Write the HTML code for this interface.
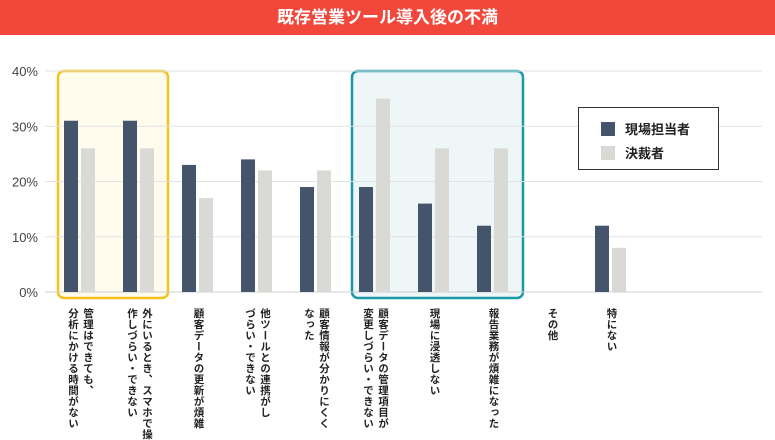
<!DOCTYPE html>
<html><head><meta charset="utf-8"><style>
body{margin:0;width:775px;height:440px;background:#fff;font-family:"Liberation Sans","Noto Sans CJK JP",sans-serif;overflow:hidden;position:relative}
.title{position:absolute;left:0;top:0;width:775px;height:35px;background:#f2473b;color:#fff;font-weight:bold;font-size:17px;text-align:center;line-height:35px}
.lab{position:absolute;top:308px;writing-mode:vertical-rl;font-size:10.5px;font-weight:bold;color:#222;line-height:15px;letter-spacing:0.5px}
</style></head><body>
<div class="title">既存営業ツール導入後の不満</div>
<svg id="c" width="775" height="440" style="position:absolute;left:0;top:0"></svg>
<div id="labs"></div>
<script>
const categories=["管理はできても、<br>分析にかける時間がない","外にいるとき、スマホで操<br>作しづらい・できない","顧客データの更新が煩雑","他ツールとの連携がし<br>づらい・できない","顧客情報が分かりにくく<br>なった","顧客データの管理項目が<br>変更しづらい・できない","現場に浸透しない","報告業務が煩雑になった","その他","特にない"];
const fieldValues=[31,31,23,24,19,19,16,12,0,12];
const managerValues=[26,26,17,22,22,35,26,26,0,8];
const yTicks=[0,10,20,30,40];
const NS="http://www.w3.org/2000/svg";
const svg=document.getElementById('c');
const y=v=>292-v*5.525;
const x=i=>50+i*59;
function mk(t,a){const e=document.createElementNS(NS,t);for(const k in a)e.setAttribute(k,a[k]);svg.appendChild(e);return e;}
let hb=mk('rect',{x:58,y:71,width:110,height:227,rx:6,fill:'#fffcee',stroke:'#f5c21b','stroke-width':2.5});


let hb2=mk('rect',{x:352,y:71,width:171,height:227,rx:6,fill:'#eef6f8',stroke:'#1a9aa8','stroke-width':2.5});


yTicks.forEach(t=>{
 const g=mk('line',{x1:45,x2:762,y1:y(t),y2:y(t),stroke:t?'#e2e2e2':'#cfcfcf','stroke-width':1});
 
 
 const tx=mk('text',{x:38,y:y(t)+5,'text-anchor':'end','font-size':13,fill:'#444'});
 tx.textContent=t+'%';
 
 
});
const labs=document.getElementById('labs');
categories.forEach((c,i)=>{
 const b1=mk('rect',{x:x(i)+14,y:y(fieldValues[i]),width:14,height:292-y(fieldValues[i]),fill:'#44546a'});
 
 
 const b2=mk('rect',{x:x(i)+31,y:y(managerValues[i]),width:14,height:292-y(managerValues[i]),fill:'#d9d9d6'});
 
 
 const d=document.createElement('div');
 d.className='lab';d.innerHTML=c;
 labs.appendChild(d);
 d.style.left=(x(i)+30-d.offsetWidth/2)+'px';
 
 
});
</script>
<div style="position:absolute;left:578px;top:107px;width:139px;height:61px;border:1px solid #333;background:#fff;font-size:13px;font-weight:bold;color:#222">
 <div style="position:absolute;left:22px;top:11px"><span style="display:inline-block;width:14px;height:14px;background:#44546a;vertical-align:-2px;margin-right:10px"></span>現場担当者</div>
 <div style="position:absolute;left:22px;top:35px"><span style="display:inline-block;width:14px;height:14px;background:#d9d9d6;vertical-align:-2px;margin-right:10px"></span>決裁者</div>
</div>
</body></html>
